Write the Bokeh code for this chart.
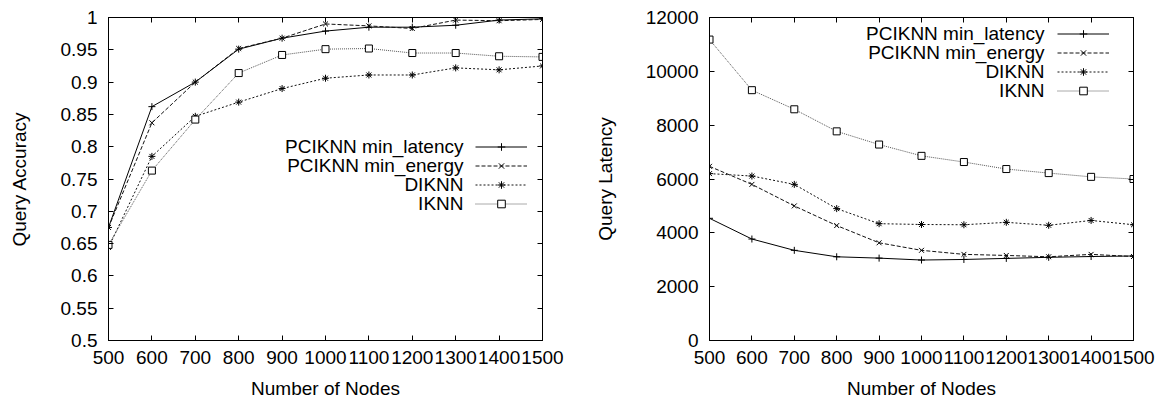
from bokeh.plotting import figure
from bokeh.models import (LinearAxis, FixedTicker, Legend, LegendItem, Label, Range1d,
                          CustomLabelingPolicy)
from bokeh.layouts import row
from bokeh.embed import file_html
from bokeh.resources import INLINE

# ---------------- data ----------------
nodes = [500, 600, 700, 800, 900, 1000, 1100, 1200, 1300, 1400, 1500]
series_names = ["PCIKNN min_latency", "PCIKNN min_energy", "DIKNN", "IKNN"]

acc_min_latency = [0.675, 0.862, 0.900, 0.951, 0.968, 0.979, 0.985, 0.985, 0.988, 0.996, 0.998]
acc_min_energy = [0.675, 0.837, 0.900, 0.952, 0.968, 0.990, 0.987, 0.983, 0.996, 0.995, 0.997]
acc_diknn = [0.644, 0.785, 0.847, 0.869, 0.890, 0.906, 0.911, 0.911, 0.922, 0.919, 0.925]
acc_iknn = [0.648, 0.763, 0.842, 0.914, 0.942, 0.951, 0.952, 0.945, 0.945, 0.940, 0.939]

lat_min_latency = [4540, 3770, 3350, 3110, 3060, 2990, 3010, 3050, 3090, 3120, 3140]
lat_min_energy = [6470, 5800, 5000, 4270, 3630, 3350, 3200, 3160, 3110, 3200, 3120]
lat_diknn = [6200, 6110, 5800, 4900, 4340, 4310, 4300, 4390, 4280, 4460, 4300]
lat_iknn = [11180, 9300, 8590, 7770, 7280, 6860, 6630, 6370, 6220, 6080, 6000]

x_ticks = [500, 600, 700, 800, 900, 1000, 1100, 1200, 1300, 1400, 1500]
acc_ticks = [0.5, 0.55, 0.6, 0.65, 0.7, 0.75, 0.8, 0.85, 0.9, 0.95, 1.0]
acc_tick_labels = ["0.5", "0.55", "0.6", "0.65", "0.7", "0.75", "0.8", "0.85", "0.9", "0.95", "1"]
lat_ticks = [0, 2000, 4000, 6000, 8000, 10000, 12000]
lat_tick_labels = ["0", "2000", "4000", "6000", "8000", "10000", "12000"]

x_label = "Number of Nodes"
acc_label = "Query Accuracy"
lat_label = "Query Latency"

# ---------------- styles ----------------
FONT = "Liberation Sans"
FS = "19px"
styles = [
    dict(color="#000000", dash="solid", marker="cross", mfill="#000000"),
    dict(color="#111111", dash="4 2", marker="x", mfill="#000000"),
    dict(color="#111111", dash="2 2", marker="asterisk", mfill="#000000"),
    dict(color="#555555", dash="1 1", marker="square", mfill="#ffffff"),
]

HIDE_LABELS = """
for (const i of indices) indices.unset(i)
return indices
"""


def style_axis(ax, ticks, labels, show_labels=True):
    ax.ticker = FixedTicker(ticks=ticks)
    ax.major_label_overrides = {t: l for t, l in zip(ticks, labels)}
    ax.major_tick_in = 5
    ax.major_tick_out = 0
    ax.minor_tick_line_color = None
    ax.major_tick_line_color = "black"
    ax.axis_line_color = "black"
    ax.major_label_text_font = FONT
    ax.major_label_text_color = "black"
    ax.major_label_text_font_size = FS
    ax.axis_label_text_font = FONT
    ax.axis_label_text_font_style = "normal"
    ax.axis_label_text_font_size = FS
    ax.axis_label_text_color = "black"
    if not show_labels:
        ax.major_label_policy = CustomLabelingPolicy(code=HIDE_LABELS)
        ax.major_label_standoff = 0


def make_panel(series, y_range, yticks, ylabels, ylabel, bl, fw, br,
               leg_vx, leg_vy, lab_x, lab_y0, ylab_standoff):
    p = figure(width=bl + fw + br, height=405, frame_width=fw, frame_height=323,
               min_border_left=bl, min_border_right=br, min_border_top=17,
               min_border_bottom=65,
               x_range=Range1d(500, 1500), y_range=y_range,
               output_backend="svg", toolbar_location=None)
    p.xgrid.visible = False
    p.ygrid.visible = False
    p.outline_line_color = "black"
    p.outline_line_width = 1
    p.background_fill_color = None
    p.border_fill_color = None

    style_axis(p.xaxis[0], x_ticks, [str(t) for t in x_ticks])
    p.xaxis[0].axis_label = x_label
    p.xaxis[0].major_label_standoff = 10
    p.xaxis[0].axis_label_standoff = 11
    style_axis(p.yaxis[0], yticks, ylabels)
    p.yaxis[0].axis_label = ylabel
    p.yaxis[0].major_label_standoff = 11
    p.yaxis[0].axis_label_standoff = ylab_standoff

    top = LinearAxis()
    style_axis(top, x_ticks, [str(t) for t in x_ticks], show_labels=False)
    p.add_layout(top, "above")
    right = LinearAxis()
    style_axis(right, yticks, ylabels, show_labels=False)
    p.add_layout(right, "right")

    items = []
    for name, ys, st in zip(series_names, series, styles):
        lr = p.line(nodes, ys, line_color=st["color"], line_dash=st["dash"], line_width=1)
        sr = p.scatter(nodes, ys, marker=st["marker"], size=7, line_color="black",
                       fill_color=st["mfill"], line_width=1)
        items.append(LegendItem(label=" ", renderers=[lr, sr]))

    leg = Legend(items=items, location=(leg_vx, leg_vy), padding=0, margin=0, spacing=0,
                 glyph_width=52, glyph_height=19, label_height=19, label_width=0,
                 label_standoff=0, label_text_font_size="1px",
                 border_line_color=None, background_fill_alpha=0)
    p.add_layout(leg, "center")

    for i, name in enumerate(series_names):
        p.add_layout(Label(x=lab_x, y=lab_y0 - 19 * i, x_units="screen", y_units="screen",
                           text=name, text_align="right", text_baseline="middle",
                           text_font=FONT, text_font_size=FS, text_color="black"))
    return p


p1 = make_panel([acc_min_latency, acc_min_energy, acc_diknn, acc_iknn],
                Range1d(0.5, 1.0), acc_ticks, acc_tick_labels, acc_label,
                108, 434, 38, 367, 127.5, 355, 194, 28)
p2 = make_panel([lat_min_latency, lat_min_energy, lat_diknn, lat_iknn],
                Range1d(0, 12000), lat_ticks, lat_tick_labels, lat_label,
                127, 424, 32, 348, 240.5, 335, 307, 27)

layout = row(p1, p2, spacing=0)
open("out.html", "w").write(file_html(layout, INLINE))
